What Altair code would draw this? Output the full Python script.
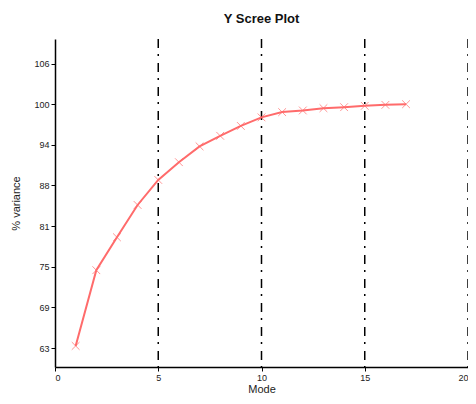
import altair as alt
import pandas as pd

modes = list(range(1, 18))
variance = [63.3, 74.8, 79.8, 84.7, 88.5, 91.2, 93.6, 95.2, 96.7, 98.0,
            98.8, 99.05, 99.4, 99.55, 99.75, 99.9, 100.0]
vlines = [5, 10, 15, 20]
x_ticks = [0, 5, 10, 15, 20]
y_ticks = [62.98, 69.15, 75.32, 81.49, 87.66, 93.83, 100.0, 106.17]

df = pd.DataFrame({"Mode": modes, "var": variance})
dv = pd.DataFrame({"x": vlines})

FONT = "Liberation Sans"
COLOR = "#ff6b6b"

xscale = alt.Scale(domain=[0, 20], nice=False, zero=False)
yscale = alt.Scale(domain=[60.1, 109.9], nice=False, zero=False)

xaxis = alt.Axis(values=x_ticks, title="Mode", grid=False, format="d")
yaxis = alt.Axis(values=y_ticks, title="% variance", grid=False, format=".0f")

rules = alt.Chart(dv).mark_rule(
    color="black", strokeWidth=1.5, strokeDash=[9, 6, 2, 7]
).encode(
    x=alt.X("x:Q", scale=xscale, axis=xaxis)
)

line = alt.Chart(df).mark_line(color=COLOR, strokeWidth=2).encode(
    x=alt.X("Mode:Q", scale=xscale, axis=xaxis),
    y=alt.Y("var:Q", scale=yscale, axis=yaxis),
)

points = alt.Chart(df).mark_point(
    shape="M-1,-1L1,1M-1,1L1,-1", color=COLOR, filled=False, size=60, strokeWidth=1
).encode(
    x=alt.X("Mode:Q", scale=xscale, axis=xaxis),
    y=alt.Y("var:Q", scale=yscale, axis=yaxis),
)

chart = alt.layer(rules, line, points).properties(
    width=413,
    height=328,
    title=alt.TitleParams("Y Scree Plot", font=FONT, fontSize=13, fontWeight="bold",
                          anchor="middle", offset=12, color="#111"),
    autosize=alt.AutoSizeParams(type="none"),
    padding={"left": 47, "top": 31, "right": 0, "bottom": 27},
).configure_view(stroke=None).configure_axis(
    domainColor="black", domainWidth=1.5, tickColor="black", tickSize=4, tickWidth=1,
    labelFont=FONT, labelFontSize=9, labelColor="#222",
    titleFont=FONT, titleFontSize=11, titleFontWeight="normal", titleColor="#222",
).configure_axisY(titlePadding=12).configure_axisX(titlePadding=1, labelPadding=2)

chart.save("out.html", embed_options={"renderer": "svg", "actions": False})
